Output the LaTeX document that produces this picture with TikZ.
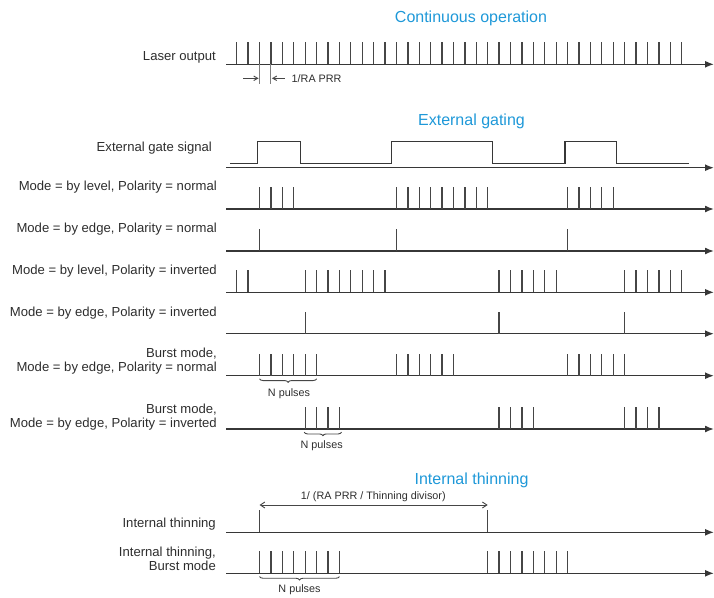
\documentclass[tikz,border=0pt]{standalone}
\usepackage{fontspec}
\setmainfont{Liberation Sans}
\usetikzlibrary{arrows.meta,decorations.pathreplacing}
\definecolor{axiscol}{RGB}{55,55,55}
\definecolor{pulsecol}{RGB}{70,70,70}
\definecolor{txt}{RGB}{45,45,45}
\definecolor{ttlblue}{RGB}{30,152,216}
\newcommand\pulserow[2]{\foreach \k in {#2} \draw[pulse] ({236.7+11.41*\k},#1) -- ++(0,-22);}
\begin{document}
\begin{tikzpicture}[x=1pt,y=-1pt,
  axis/.style={draw=axiscol, line width=1.5pt, -{Latex[length=9pt,width=7pt]}},
  pulse/.style={draw=pulsecol, line width=1.3pt},
  gate/.style={draw=axiscol, line width=1.5pt},
  lab/.style={font=\fontsize{13.1}{14}\selectfont, text=txt, anchor=east, align=right, inner sep=0pt},
  ttl/.style={font=\fontsize{16}{18}\selectfont, text=ttlblue, inner sep=0pt},
  small/.style={font=\fontsize{10.8}{12}\selectfont, text=txt, inner sep=0pt},
  dimarrow/.style={draw=pulsecol, line width=0.9pt},
  nbrace/.style={draw=pulsecol, line width=0.9pt, decorate, decoration={brace, mirror, amplitude=3.5pt}}
]
\useasboundingbox (0,0) rectangle (714,597);

% titles
\node[ttl] (t1) at (471,18.5) {Continuous operation};
\node[ttl] (t2) at (471.5,121) {External gating};
\node[ttl] (t3) at (471.5,480) {Internal thinning};

% labels
\node[lab] (l1) at (216,57.5) {Laser output};
\node[lab] (l2) at (212,148) {External gate signal};
\node[lab] (l3) at (217,187.3) {Mode = by level, Polarity = normal};
\node[lab] (l4) at (217,229) {Mode = by edge, Polarity = normal};
\node[lab] (l5) at (217,270.7) {Mode = by level, Polarity = inverted};
\node[lab] (l6) at (217,312.7) {Mode = by edge, Polarity = inverted};
\node[lab] (l7) at (217,361.3) {Burst mode,\\Mode = by edge, Polarity = normal};
\node[lab] (l8) at (217,417.2) {Burst mode,\\Mode = by edge, Polarity = inverted};
\node[lab] (l9) at (216,524) {Internal thinning};
\node[lab] (l10) at (216,558.5) {Internal thinning,\\Burst mode};

% axes
\foreach \n/\y in {1/64.3,2/167.7,3/209,4/251,5/292.3,6/333.7,7/375.7,8/429,9/532.3,10/573.3}{
  \coordinate (s\n) at (226,\y);
  \coordinate (e\n) at (714,\y);
  \draw[axis] (s\n) -- (e\n);
}

% continuous
\pulserow{64.3}{0,...,39}
% 1/RA PRR annotation
\coordinate (ta) at (259.52,64.3);
\coordinate (tb) at (270.93,64.3);
\coordinate (ta2) at (259.52,83.5);
\coordinate (tb2) at (270.93,83.5);
\draw[draw=pulsecol!70, line width=1pt] (ta) -- (ta2);
\draw[draw=pulsecol!70, line width=1pt] (tb) -- (tb2);
\coordinate (ra1) at (243.3,78.3);
\coordinate (ra2) at (258.6,78.3);
\coordinate (rb1) at (284.5,78.3);
\coordinate (rb2) at (271.9,78.3);
\draw[dimarrow, -{Straight Barb[length=4pt,width=4.5pt]}] (ra1) -- (ra2);
\draw[dimarrow, -{Straight Barb[length=4pt,width=4.5pt]}] (rb1) -- (rb2);
\node[small, anchor=west] (prr) at (291.5,78.3) {1/RA PRR};

% gate signal
\coordinate (g0) at (230,163.7);
\coordinate (g9) at (689,163.7);
\draw[gate] (g0) -- (257.3,163.7) -- (257.3,141.7) -- (300.3,141.7) -- (300.3,163.7)
  -- (391.7,163.7) -- (391.7,141.7) -- (492.7,141.7) -- (492.7,163.7)
  -- (565,163.7) -- (565,141.7) -- (616.7,141.7) -- (616.7,163.7) -- (g9);

% by level, normal
\pulserow{209}{2,3,4,5,14,15,16,17,18,19,20,21,22,29,30,31,32,33}
% by edge, normal
\pulserow{251}{2,14,29}
% by level, inverted
\pulserow{292.3}{0,1,6,7,8,9,10,11,12,13,23,24,25,26,27,28,34,35,36,37,38,39}
% by edge, inverted
\pulserow{333.7}{6,23,34}
% burst normal
\pulserow{375.7}{2,3,4,5,6,7,14,15,16,17,18,19,29,30,31,32,33,34}
\coordinate (b1a) at (259.52,378.8);
\coordinate (b1b) at (316.6,378.8);
\draw[nbrace] (b1a) -- (b1b);
\node[small] (n1) at (289,393.3) {N pulses};
% burst inverted
\pulserow{429}{6,7,8,9,23,24,25,26,34,35,36,37}
\coordinate (b2a) at (304.2,432.2);
\coordinate (b2b) at (341.6,432.2);
\draw[nbrace] (b2a) -- (b2b);
\node[small] (n2) at (321.7,446) {N pulses};

% internal thinning
\pulserow{532.3}{2,22}
\coordinate (d1) at (259.52,505);
\coordinate (d2) at (487.7,505);
\draw[dimarrow, {Straight Barb[length=4.5pt,width=6pt]}-{Straight Barb[length=4.5pt,width=6pt]}] (d1) -- (d2);
\node[small] (dl) at (373.3,497) {1/ (RA PRR / Thinning divisor)};

% internal thinning, burst
\pulserow{573.3}{2,3,4,5,6,7,8,9,22,23,24,25,26,27,28,29}
\coordinate (b3a) at (259.52,576.5);
\coordinate (b3b) at (339.4,576.5);
\draw[nbrace] (b3a) -- (b3b);
\node[small] (n3) at (299.5,589.5) {N pulses};
\end{tikzpicture}
\end{document}
